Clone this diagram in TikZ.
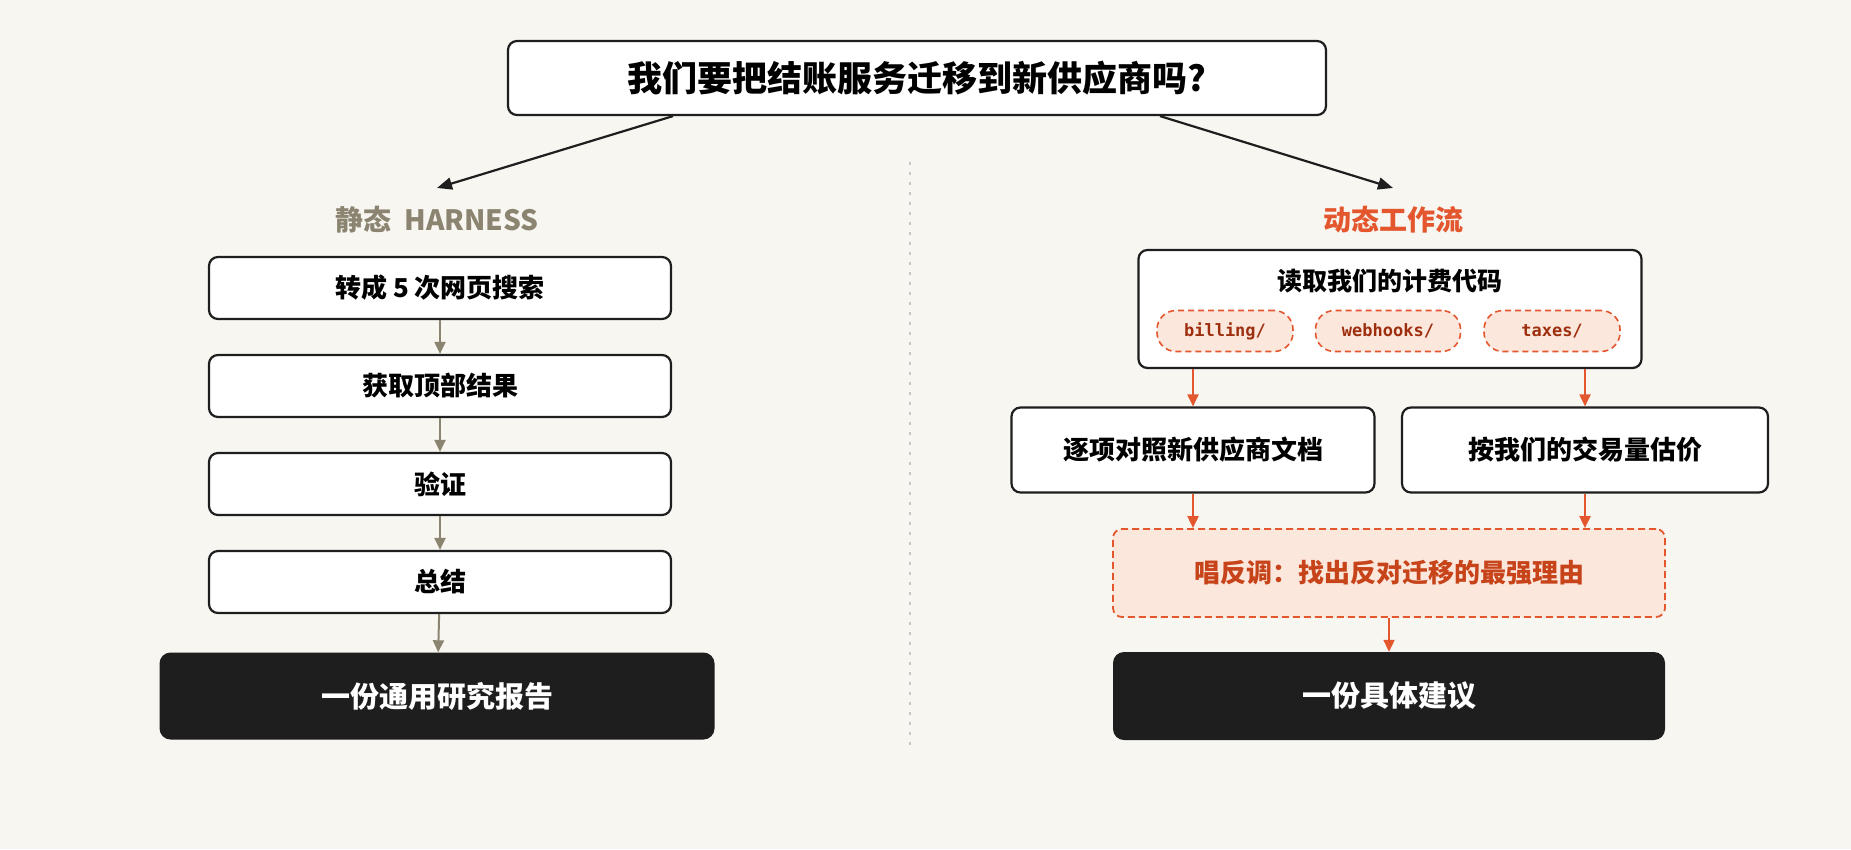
\documentclass[tikz,border=0pt]{standalone}
\usepackage{fontspec}
\setmainfont{Noto Sans CJK SC}
\setmonofont{DejaVu Sans Mono}
\usetikzlibrary{arrows.meta, positioning}
\definecolor{paper}{HTML}{F8F6F1}
\definecolor{taupe}{HTML}{8B8470}
\definecolor{flame}{HTML}{E4572E}
\definecolor{rust}{HTML}{C7441A}
\definecolor{brick}{HTML}{9E2F0E}
\definecolor{blush}{HTML}{FCE7DD}
\definecolor{ink}{HTML}{1E1E1E}
\newcommand{\fs}[1]{\fontsize{#1}{#1}\selectfont}

\begin{document}
\begin{tikzpicture}[x=1pt, y=-1pt,
  stepbox/.style={draw=ink, line width=2.2pt, rounded corners=9pt, fill=white, font=\fs{26}\bfseries,
                  minimum width=462pt, minimum height=62pt, inner sep=0pt},
  resultbox/.style={fill=ink, rounded corners=11pt, text=white, font=\fs{29}\bfseries,
                    minimum height=87pt, inner sep=0pt},
  pill/.style={draw=flame, dash pattern=on 6pt off 4pt, line width=1.6pt, fill=blush, rounded corners=19pt, text=brick,
               font=\fs{17}\ttfamily\bfseries, minimum height=41pt, inner sep=0pt},
  colhead/.style={font=\fs{28}\bfseries},
  arr/.style={-{Triangle[length=15pt, width=12pt]}, line width=2.2pt, draw=ink},
  grayarr/.style={-{Triangle[length=12pt, width=11pt]}, line width=2pt, draw=taupe},
  orarr/.style={-{Triangle[length=12pt, width=11pt]}, line width=2pt, draw=flame}
]
\useasboundingbox[fill=paper] (0,0) rectangle (1851,849);

% question
\node[stepbox, font=\fs{35}\bfseries, minimum width=818pt, minimum height=74pt] (q) at (917,78)
  {我们要把结账服务迁移到新供应商吗?};

% divider
\draw[gray!45, line width=1.5pt, dash pattern=on 3pt off 7pt] (910,162) -- (910,750);

% static side
\node[colhead, text=taupe] (lstatic) at (437,220) {静态~~HARNESS};
\node[stepbox] (s1) at (440,288) {转成 5 次网页搜索};
\node[stepbox] (s2) at (440,386) {获取顶部结果};
\node[stepbox] (s3) at (440,484) {验证};
\node[stepbox] (s4) at (440,582) {总结};
\node[resultbox, minimum width=555pt] (r1) at (437,696) {一份通用研究报告};

% dynamic side
\node[colhead, text=flame] (ldyn) at (1393,220) {动态工作流};
\node[stepbox, minimum width=503pt, minimum height=118pt,
      label={[anchor=north, yshift=-17pt, font=\fs{25}\bfseries]north:读取我们的计费代码}] (read) at (1390,309) {};
\node[pill, minimum width=136pt] (p1) at (1225,331) {billing/};
\node[pill, minimum width=145pt] (p2) at (1388,331) {webhooks/};
\node[pill, minimum width=136pt] (p3) at (1552,331) {taxes/};
\node[stepbox, minimum width=363pt, minimum height=85pt] (m1) at (1193,450) {逐项对照新供应商文档};
\node[stepbox, minimum width=366pt, minimum height=85pt] (m2) at (1585,450) {按我们的交易量估价};
\node[stepbox, draw=flame, dash pattern=on 7pt off 4pt, line width=1.8pt, fill=blush, text=rust,
      minimum width=552pt, minimum height=88pt] (dev) at (1389,573) {唱反调：找出反对迁移的最强理由};
\node[resultbox, minimum width=552pt, minimum height=88pt] (r2) at (1389,696) {一份具体建议};

% connectors
\draw[arr] ([xshift=-244pt]q.south) -- ([yshift=15pt]lstatic.north);
\draw[arr] ([xshift=243pt]q.south) -- ([yshift=15pt]ldyn.north);
\draw[grayarr] (s1) -- (s2);
\draw[grayarr] (s2) -- (s3);
\draw[grayarr] (s3) -- (s4);
\draw[grayarr] (s4) -- (r1);
\draw[orarr] (read.south -| m1.north) -- (m1.north);
\draw[orarr] (read.south -| m2.north) -- (m2.north);
\draw[orarr] (m1.south) -- (m1.south |- dev.north);
\draw[orarr] (m2.south) -- (m2.south |- dev.north);
\draw[orarr] (dev) -- (r2);
\end{tikzpicture}
\end{document}
